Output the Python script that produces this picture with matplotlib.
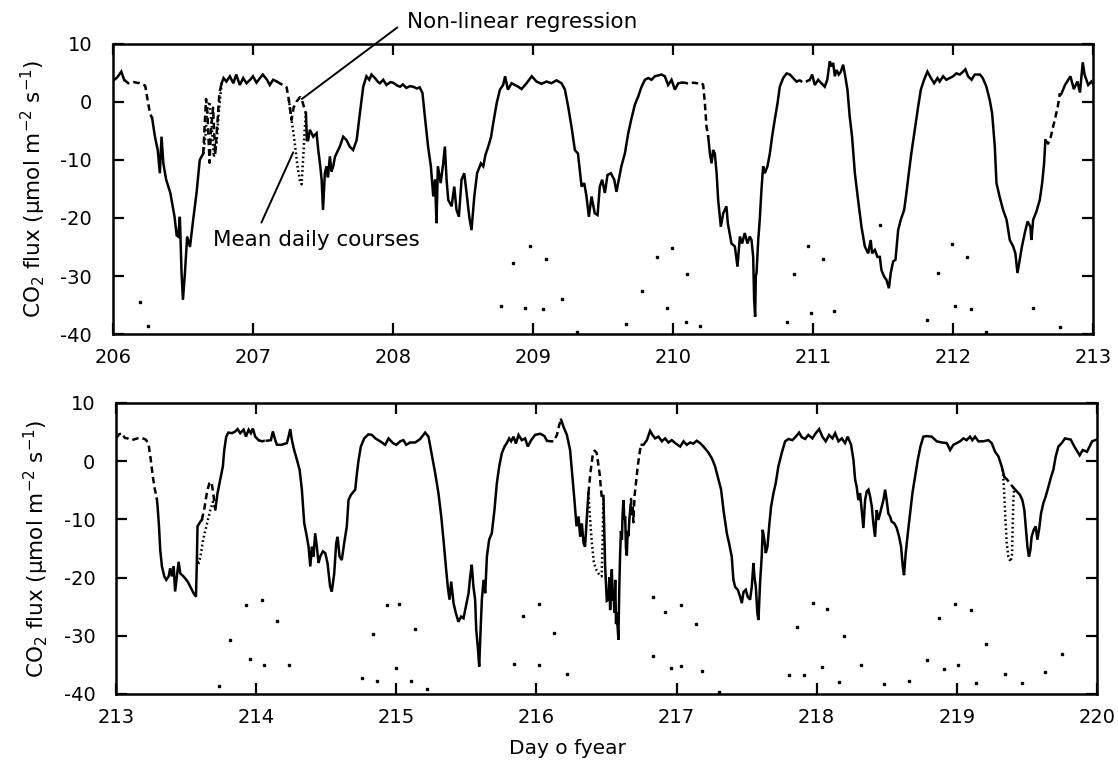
import numpy as np
import matplotlib
matplotlib.use("Agg")
import matplotlib.pyplot as plt

plt.rcParams["font.family"] = ["DejaVu Sans"]
plt.rcParams["axes.unicode_minus"] = False
plt.rcParams["mathtext.default"] = "regular"

nan = np.nan

# -----------------------------------
# DATA  (day of year, CO2 flux in umol m-2 s-1)
# measured series, gaps = nan
# -----------------------------------
top_day = [
    206.0, 206.03, 206.06, 206.08, nan,
    206.28, 206.30, 206.32, 206.335, 206.347, 206.36, 206.38, 206.41, 206.44, 206.455, 206.466,
    206.478, 206.49, 206.50, 206.514, 206.53, 206.55, 206.573, 206.597, 206.62, 206.645, nan,
    206.776, 206.79, 206.81, 206.835, 206.86, 206.88, 206.906, 206.93, 206.954, 206.98, 207.0,
    207.025, 207.05, 207.07, 207.10, 207.12, 207.144, 207.17, nan,
    207.378, 207.385, 207.394, 207.406, 207.43, 207.454, 207.466, 207.48, 207.49, 207.50, 207.513,
    207.525, 207.535, 207.549, 207.56, 207.573, 207.585, 207.596, 207.62, 207.644, 207.668, 207.69,
    207.715, 207.74, 207.763, 207.787, 207.81, 207.83, 207.846, 207.87, 207.89, 207.906, 207.93,
    207.953, 207.98, 208.0, 208.03, 208.05, 208.07, 208.095, 208.12, 208.144, 208.17, 208.19,
    208.21, 208.227, 208.25, 208.27, 208.287, 208.30, 208.31, 208.32, 208.34, 208.358, 208.37,
    208.382, 208.394, 208.418, 208.437, 208.453, 208.47, 208.489, 208.508, 208.525, 208.544, 208.56,
    208.58, 208.60, 208.627, 208.644, 208.66, 208.68, 208.70, 208.715, 208.74, 208.763, 208.786,
    208.80, 208.82, 208.846, 208.87, 208.894, 208.917, 208.953, 208.99, 209.024, 209.06, 209.096,
    209.13, 209.167, 209.203, 209.227, 209.25, 209.274, 209.298, 209.32, 209.346, 209.365, 209.381,
    209.398, 209.417, 209.44, 209.46, 209.476, 209.493, 209.512, 209.531, 209.555, 209.579, 209.595,
    209.612, 209.63, 209.655, 209.679, 209.70, 209.726, 209.75, 209.774, 209.798, 209.822, 209.845,
    209.869, 209.917, 209.94, 209.964, 209.988, 210.012, 210.036, 210.06, nan,
    210.25, 210.262, 210.274, 210.285, 210.297, 210.31, 210.321, 210.34, 210.357, 210.38, 210.39,
    210.416, 210.44, 210.459, 210.476, 210.492, 210.511, 210.53, 210.547, 210.559, 210.571, 210.578,
    210.585, 210.59, 210.595, 210.607, 210.618, 210.63, 210.642, 210.654, 210.673, 210.69, 210.706,
    210.725, 210.745, 210.761, 210.785, 210.81, 210.833, 210.856, 210.88, nan,
    210.975, 210.992, 211.011, 211.035, 211.059, 211.082, 211.10, 211.118, 211.13, 211.142, 211.154,
    211.166, 211.182, 211.197, 211.213, 211.225, 211.244, 211.26, 211.277, 211.297, 211.32, 211.344,
    211.368, 211.392, 211.41, 211.42, 211.44, 211.458, 211.475, 211.487, 211.506, 211.523, 211.54,
    211.553, 211.57, 211.587, 211.606, 211.625, 211.649, 211.665, 211.682, 211.70, 211.725, 211.749,
    211.768, 211.791, 211.815, 211.84, 211.863, 211.887, 211.903, 211.927, 211.95, 211.975, 211.998,
    212.022, 212.046, 212.07, 212.086, 212.105, 212.13, 212.153, 212.19, 212.21, 212.236, 212.26,
    212.277, 212.296, 212.308, 212.33, 212.355, 212.38, 212.403, 212.427, 212.443, 212.458, 212.474,
    212.49, 212.51, 212.53, 212.55, 212.557, 212.57, 212.593, 212.617, 212.634, 212.648, 212.657, nan,
    212.76, 212.77, 212.797, 212.836, 212.86, 212.886, 212.904, 212.924, 212.937, 212.963, 212.985,
    213.0,
]
top_flux = [
    3.6, 4.2, 5.2, 3.8, nan,
    -2.8, -6.0, -8.3, -12.3, -6.0, -10.6, -13.4, -15.7, -19.8, -23.0, -23.2,
    -19.8, -29.5, -34.1, -29.5, -23.2, -25.0, -20.3, -15.7, -10.0, -8.9, nan,
    3.2, 4.1, 3.5, 4.4, 3.2, 4.7, 2.9, 4.1, 3.2, 3.8, 4.4,
    3.3, 4.1, 4.7, 3.8, 2.9, 3.8, 3.5, nan,
    -2.0, -6.6, -6.6, -4.8, -6.0, -5.4, -8.3, -11.0, -13.4, -18.6, -12.3,
    -11.1, -13.0, -9.4, -12.0, -11.1, -9.5, -8.9, -7.7, -6.0, -6.6, -7.7,
    -8.3, -6.6, -2.0, 2.6, 4.4, 3.8, 4.7, 4.1, 3.5, 3.2, 3.8,
    2.9, 3.4, 3.3, 2.8, 2.6, 3.0, 2.4, 2.7, 2.6, 2.3, 2.5,
    1.5, -2.5, -7.7, -11.1, -16.3, -13.4, -20.9, -11.1, -14.0, -10.6, -7.7,
    -13.4, -16.9, -18.0, -14.6, -18.6, -19.8, -13.4, -12.3, -15.7, -19.8, -22.1,
    -16.3, -12.3, -10.6, -11.1, -9.1, -7.7, -6.0, -3.7, -0.2, 2.1, 2.9,
    4.4, 2.1, 3.2, 2.9, 2.6, 2.2, 3.2, 4.4, 3.5, 3.1, 3.5,
    3.2, 3.7, 3.2, 2.1, -0.8, -4.3, -8.3, -8.9, -14.6, -14.0, -16.3,
    -19.8, -16.3, -19.2, -19.5, -14.6, -13.4, -15.7, -12.6, -12.3, -13.4, -15.5,
    -13.4, -11.1, -8.9, -5.4, -3.1, -0.5, 0.9, 2.6, 3.8, 4.1, 3.8,
    4.4, 4.7, 4.4, 2.9, 3.8, 2.1, 3.2, 3.3, nan,
    -6.0, -8.9, -10.6, -8.3, -8.9, -12.3, -16.9, -21.5, -19.2, -18.0, -20.9,
    -24.4, -24.9, -28.4, -23.2, -24.4, -22.6, -24.4, -23.2, -23.8, -26.7, -34.1,
    -37.0, -30.0, -29.5, -23.8, -20.3, -15.2, -11.1, -12.3, -11.1, -8.9, -6.0,
    -3.1, -0.2, 2.6, 4.1, 4.9, 4.7, 4.1, 3.5, nan,
    3.8, 4.7, 2.9, 3.8, 3.2, 2.6, 3.8, 7.0, 6.1, 6.7, 4.4,
    5.5, 4.7, 5.2, 6.4, 4.9, 2.1, -2.5, -6.0, -12.3, -16.9, -21.5,
    -24.9, -26.1, -23.8, -26.1, -25.5, -26.7, -26.7, -29.0, -30.1, -30.7, -32.1,
    -29.5, -27.5, -27.2, -22.1, -20.3, -18.6, -15.7, -12.3, -8.9, -4.8, -0.8,
    2.1, 3.8, 5.2, 4.1, 3.2, 4.1, 3.5, 4.4, 3.8, 4.1, 4.4,
    4.9, 4.7, 5.2, 5.6, 4.4, 3.8, 4.7, 4.7, 4.1, 2.6, 0.3,
    -2.0, -7.7, -14.0, -16.3, -18.6, -20.3, -23.8, -24.9, -26.1, -29.5, -27.2,
    -24.9, -22.6, -20.6, -21.5, -23.8, -20.3, -18.9, -16.9, -14.0, -10.6, -6.6, nan,
    1.3, 1.3, 2.9, 4.4, 2.2, 3.5, 1.6, 6.8, 4.7, 2.9, 3.5,
    3.0,
]

# gap filling: non-linear regression (dashed)
top_nlr_day = [
    206.08, 206.11, 206.15, 206.19, 206.23, 206.25, 206.265, 206.28, nan,
    206.645, 206.655, 206.665, 206.675, 206.69, 206.70, 206.715, 206.73, 206.745, 206.76, 206.776, nan,
    207.17, 207.19, 207.22, 207.24, 207.255, 207.275, 207.29, 207.31, 207.335, 207.35, 207.365, 207.378, nan,
    210.06, 210.083, 210.11, 210.143, 210.17, 210.202, 210.214, 210.226, 210.238, 210.25, nan,
    210.88, 210.904, 210.928, 210.95, 210.975, nan,
    212.657, 212.676, 212.696, 212.712, 212.73, 212.745, 212.76,
]
top_nlr_flux = [
    3.8, 3.2, 3.4, 3.2, 2.8, 0.0, -2.0, -2.8, nan,
    -8.9, -4.0, 0.5, -2.0, -10.5, -5.0, -1.0, -9.0, -4.0, 1.5, 3.2, nan,
    3.5, 3.2, 2.8, 2.5, 0.5, -3.1, -1.0, 0.0, 0.8, 0.3, -1.0, -2.0, nan,
    3.3, 3.3, 3.1, 3.3, 3.2, 3.3, 2.9, -0.2, -4.3, -6.0, nan,
    3.5, 3.7, 3.3, 3.5, 3.8, nan,
    -6.6, -7.2, -6.0, -4.3, -2.5, -0.9, 1.3,
]

# gap filling: mean daily courses (dotted)
top_mdc_day = [
    206.645, 206.66, 206.675, 206.69, 206.705, 206.72, 206.74, 206.755, 206.776, nan,
    207.255, 207.275, 207.29, 207.305, 207.32, 207.335, 207.347, 207.36, 207.37, 207.378,
]
top_mdc_flux = [
    -8.9, -6.0, -1.0, 0.0, -4.0, -9.5, -7.0, -2.0, 3.2, nan,
    0.5, -3.1, -5.5, -8.5, -11.5, -13.5, -14.2, -9.0, -4.5, -2.0,
]

bot_day = [
    213.29, 213.295, 213.305, 213.314, 213.326, 213.343, 213.357, 213.374, 213.385, 213.397, 213.41,
    213.42, 213.433, 213.445, 213.457, 213.48, 213.51, 213.533, 213.552, 213.569, 213.576, 213.58,
    213.60, 213.611, nan,
    213.707, 213.723, 213.742, 213.761, 213.771, 213.785, 213.80, 213.826, 213.85, 213.866, 213.885,
    213.909, 213.926, 213.945, 213.961, 213.975, 213.992, 214.016, nan,
    214.075, 214.104, 214.118, 214.135, 214.147, 214.18, 214.218, 214.23, 214.242, 214.254, 214.27,
    214.29, 214.309, 214.325, 214.342, 214.356, 214.373, 214.385, 214.397, 214.408, 214.42, 214.432,
    214.444, 214.456, 214.475, 214.492, 214.508, 214.527, 214.539, 214.556, 214.57, 214.58, 214.594,
    214.61, 214.627, 214.646, 214.658, 214.675, 214.706, 214.718, 214.73, 214.746, 214.77, 214.80,
    214.825, 214.85, 214.884, 214.92, 214.944, 214.975, 215.0, 215.027, 215.05, 215.07, 215.098,
    215.134, 215.17, 215.205, 215.229, 215.253, 215.277, 215.30, 215.32, 215.336, 215.353, 215.367,
    215.379, 215.391, 215.408, 215.424, 215.443, 215.462, 215.479, 215.496, 215.515, 215.527, 215.538,
    215.55, 215.562, 215.57, 215.581, 215.591, 215.60, 215.61, 215.622, 215.634, 215.646, 215.662,
    215.681, 215.70, 215.717, 215.734, 215.753, 215.772, 215.788, 215.805, 215.819, 215.836, 215.853,
    215.872, 215.895, 215.919, 215.938, 215.962, 215.99, 216.026, 216.057, 216.074, nan,
    216.176, 216.193, 216.217, 216.24, 216.257, 216.271, 216.286, 216.30, 216.312, 216.324, 216.336,
    216.347, 216.36, 216.371, nan,
    216.478, 216.49, 216.502, 216.514, 216.52, 216.526, 216.532, 216.538, 216.544, 216.55, 216.556,
    216.562, 216.568, 216.573, 216.585, 216.591, 216.597, 216.603, 216.61, 216.615, 216.621, 216.627,
    216.633, 216.639, 216.645, 216.651, 216.657, 216.663, 216.669, nan,
    216.752, 216.764, 216.788, 216.811, 216.828, 216.847, 216.871, 216.895, 216.918, 216.942, 216.966,
    216.995, 217.026, 217.05, 217.073, 217.097, 217.12, 217.144, 217.168, 217.192, 217.223, 217.252,
    217.275, 217.30, 217.318, 217.335, 217.359, 217.375, 217.394, 217.406, 217.418, 217.437, 217.454,
    217.466, 217.478, 217.494, 217.508, 217.525, 217.537, 217.549, 217.556, 217.566, 217.577, 217.585,
    217.596, 217.608, 217.615, 217.627, 217.637, 217.649, 217.663, 217.675, 217.692, 217.708, 217.727,
    217.751, 217.775, 217.799, 217.827, 217.851, 217.875, 217.894, 217.918, 217.941, 217.97, 217.994,
    218.018, 218.041, 218.065, 218.089, 218.113, 218.132, 218.156, 218.18, 218.203, 218.222, 218.246,
    218.263, 218.275, 218.286, 218.298, 218.31, 218.322, 218.334, 218.346, 218.358, 218.37, 218.382,
    218.394, 218.405, 218.417, 218.429, 218.441, 218.453, 218.465, 218.477, 218.489, 218.5, 218.512,
    218.524, 218.536, 218.555, 218.572, 218.589, 218.603, 218.615, 218.624, 218.636, 218.651, 218.667,
    218.684, 218.703, 218.722, 218.741, 218.762, 218.786, 218.822, 218.857, 218.893, 218.929, 218.953,
    218.976, 219.0, 219.024, 219.048, 219.071, 219.095, 219.112, 219.131, 219.155, 219.191, 219.226,
    219.25, 219.274, 219.298, 219.321, 219.34, nan,
    219.41, 219.429, 219.452, 219.469, 219.483, 219.493, 219.505, 219.516, 219.526, 219.535, 219.55,
    219.564, 219.576, 219.588, 219.602, 219.619, 219.635, 219.655, 219.674, 219.69, 219.707, 219.726,
    219.75, 219.773, 219.814, 219.84, 219.878, 219.9, 219.93, 219.967, 220.0,
]
bot_flux = [
    -6.5, -7.8, -11.2, -15.3, -18.1, -19.8, -20.4, -19.8, -18.4, -19.8, -18.1,
    -22.4, -19.8, -17.3, -19.3, -19.8, -20.7, -21.8, -22.7, -23.3, -16.4, -11.2,
    -10.4, -10.1, nan,
    -8.3, -5.5, -3.2, -0.9, 1.9, 4.2, 4.9, 4.8, 5.1, 5.5, 4.8,
    5.4, 4.2, 5.4, 4.8, 5.6, 4.2, 3.6, nan,
    3.5, 3.6, 5.1, 3.6, 2.8, 2.8, 3.1, 4.2, 5.5, 3.6, 1.9,
    0.2, -1.5, -4.9, -10.7, -12.4, -14.7, -18.1, -14.7, -16.4, -12.4, -14.7,
    -17.5, -16.4, -15.5, -15.8, -17.5, -21.6, -22.4, -19.3, -14.1, -13.0, -16.4,
    -17.0, -14.1, -11.2, -6.7, -5.8, -4.9, -2.1, 0.2, 2.5, 3.9, 4.6,
    4.5, 3.9, 3.4, 2.8, 3.9, 3.1, 2.8, 3.4, 3.6, 2.8, 3.2,
    3.2, 3.8, 4.9, 4.2, 1.1, -2.1, -5.5, -9.5, -13.5, -18.1, -21.6,
    -23.8, -20.7, -24.4, -26.1, -27.6, -26.7, -27.0, -25.0, -22.7, -19.8, -17.8,
    -21.6, -23.8, -29.0, -31.9, -35.3, -29.6, -23.8, -20.4, -22.7, -16.4, -13.5,
    -12.4, -8.4, -3.8, -0.9, 1.4, 2.5, 3.1, 3.9, 3.4, 4.2, 3.0,
    4.5, 3.6, 3.9, 2.5, 3.6, 4.5, 4.7, 4.3, 3.5, nan,
    7.1, 5.9, 4.5, 1.9, -2.7, -6.7, -11.2, -9.5, -13.0, -10.7, -14.1,
    -14.7, -9.5, -5.5, nan,
    -6.0, -18.0, -24.0, -23.8, -20.0, -25.6, -21.0, -18.6, -24.0, -22.5, -26.0,
    -20.4, -28.0, -26.0, -30.7, -22.0, -16.0, -12.0, -13.5, -9.0, -6.7, -10.0,
    -9.5, -15.0, -16.2, -12.0, -12.9, -10.0, -8.4, nan,
    2.8, 2.8, 3.6, 5.2, 4.5, 3.9, 4.2, 3.4, 3.9, 3.2, 3.6,
    3.0, 2.5, 3.4, 2.8, 3.2, 3.0, 3.5, 3.1, 2.5, 1.6, 0.5,
    -0.9, -3.2, -4.9, -8.4, -12.4, -14.1, -16.4, -20.4, -21.6, -22.1, -23.3,
    -24.4, -22.5, -22.1, -23.3, -23.8, -21.6, -17.5, -19.8, -21.6, -26.1, -27.3,
    -21.0, -16.4, -11.8, -13.5, -15.8, -14.7, -10.7, -7.8, -5.5, -3.8, -0.9,
    1.4, 3.4, 3.8, 3.6, 4.2, 4.9, 4.1, 3.8, 4.5, 3.9, 4.8,
    5.5, 4.2, 3.4, 4.5, 3.9, 4.8, 3.4, 3.9, 3.1, 4.2, 2.8,
    0.2, -3.2, -4.4, -6.7, -5.5, -8.4, -11.5, -6.7, -5.2, -4.9, -6.1,
    -7.8, -10.7, -13.0, -8.4, -10.1, -9.0, -7.8, -6.7, -4.9, -6.7, -9.0,
    -9.5, -10.4, -10.7, -11.5, -13.0, -14.7, -18.1, -19.6, -15.8, -12.4, -9.0,
    -5.5, -2.7, 0.2, 2.5, 4.2, 4.3, 4.2, 3.4, 3.2, 3.1, 1.9,
    2.8, 3.1, 3.4, 3.9, 3.6, 4.2, 3.6, 4.2, 3.4, 3.4, 3.6,
    3.1, 1.6, 0.8, -0.9, -2.7, nan,
    -4.7, -5.2, -5.8, -6.7, -8.4, -11.2, -14.7, -16.4, -15.3, -13.0, -11.8,
    -11.2, -13.5, -11.8, -9.0, -7.2, -6.1, -4.4, -2.7, -1.5, 0.8, 2.5,
    3.1, 3.9, 3.7, 2.5, 1.0, 1.9, 1.6, 3.4, 3.7,
]

bot_nlr_day = [
    213.0, 213.02, 213.04, 213.06, 213.08, 213.11, 213.15, 213.18, 213.21, 213.23, 213.245,
    213.26, 213.275, 213.29, nan,
    213.611, 213.63, 213.65, 213.665, 213.68, 213.695, 213.707, nan,
    214.016, 214.04, 214.06, 214.075, nan,
    216.074, 216.098, 216.122, 216.146, 216.162, 216.176, nan,
    216.371, 216.385, 216.40, 216.415, 216.43, 216.45, 216.465, 216.478, nan,
    216.669, 216.675, 216.68, 216.686, 216.692, 216.70, 216.71, 216.725, 216.74, 216.752, nan,
    219.34, 219.357, 219.38, 219.41,
]
bot_nlr_flux = [
    4.0, 4.6, 4.8, 4.0, 3.9, 3.6, 3.9, 4.0, 3.7, 3.0, 0.5,
    -2.5, -4.8, -6.5, nan,
    -10.1, -8.0, -5.0, -3.8, -3.6, -6.0, -8.3, nan,
    3.6, 3.4, 3.5, 3.5, nan,
    3.5, 3.4, 3.4, 4.5, 6.2, 7.1, nan,
    -5.5, -2.0, 0.8, 1.8, 1.4, -2.0, -6.0, -6.0, nan,
    -8.4, -6.5, -9.5, -7.5, -10.5, -6.0, -3.8, -0.5, 2.0, 2.8, nan,
    -2.7, -3.1, -3.8, -4.7,
]

bot_mdc_day = [
    213.576, 213.585, 213.60, 213.62, 213.645, 213.67, 213.69, 213.707, nan,
    216.371, 216.38, 216.395, 216.41, 216.43, 216.45, 216.465, 216.472, 216.478, nan,
    219.329, 219.337, 219.345, 219.357, 219.369, 219.385, 219.395, 219.40, 219.405, 219.41,
]
bot_mdc_flux = [
    -16.4, -17.8, -16.5, -13.5, -11.0, -8.5, -7.0, -8.3, nan,
    -5.5, -9.0, -14.0, -17.5, -18.8, -19.6, -19.8, -14.0, -6.0, nan,
    -1.5, -4.5, -8.5, -14.0, -16.4, -17.3, -16.0, -11.0, -6.5, -4.7,
]

# stray specks of the printed original
top_speck_day = [206.193, 206.247, 208.977, 208.853, 209.089, 208.77, 208.941, 209.067, 209.203,
                 209.31, 209.881, 209.993, 210.102, 209.774, 209.957, 210.088, 210.19, 209.66,
                 211.48, 210.963, 211.07, 210.864, 210.987, 211.147, 210.814, 211.987, 212.098,
                 211.887, 212.01, 212.124, 211.813, 212.236, 212.57, 212.764]
top_speck_flux = [-34.4, -38.6, -24.8, -27.8, -27.0, -35.1, -35.5, -35.7, -34.0,
                  -39.7, -26.7, -25.2, -29.7, -32.5, -35.5, -38.0, -38.6, -38.3,
                  -21.2, -24.8, -27.1, -29.7, -36.3, -36.0, -38.0, -24.5, -26.8,
                  -29.5, -35.1, -35.7, -37.5, -39.6, -35.5, -38.7]
bot_speck_day = [213.928, 214.04, 214.147, 213.814, 213.952, 214.052, 214.235, 213.73, 214.932,
                 215.022, 215.13, 214.83, 215.0, 214.754, 214.86, 215.105, 216.019, 215.907,
                 216.128, 215.836, 216.019, 216.217, 215.217, 216.83, 217.03, 216.918, 217.14,
                 216.835, 216.959, 217.03, 217.18, 217.3, 217.972, 218.072, 217.863, 218.196,
                 218.037, 218.317, 217.803, 217.91, 218.163, 218.482, 218.66, 218.988, 219.1,
                 218.876, 219.21, 218.79, 218.912, 219.012, 219.136, 219.345, 219.469, 219.63,
                 219.75]
bot_speck_flux = [-24.7, -23.8, -27.4, -30.8, -34.0, -35.0, -35.0, -38.7, -24.8,
                  -24.5, -28.9, -29.7, -35.6, -37.3, -37.7, -37.7, -24.5, -26.6,
                  -29.6, -34.9, -35.1, -36.6, -39.2, -23.4, -24.7, -26.0, -28.0,
                  -33.5, -35.5, -35.2, -36.0, -39.6, -24.4, -25.4, -28.5, -30.1,
                  -35.3, -35.1, -36.7, -36.7, -38.0, -38.3, -37.8, -24.5, -25.5,
                  -27.0, -31.4, -34.2, -35.7, -35.1, -38.1, -36.6, -38.1, -36.3,
                  -33.1]

y_ticks = [-40, -30, -20, -10, 0, 10]
ylabel = "CO$_2$ flux (µmol m$^{-2}$ s$^{-1}$)"

# -----------------------------------
# FIGURE
# -----------------------------------
fig = plt.figure(figsize=(11.18, 7.68), dpi=100)
ax_top = fig.add_axes([0.101, 0.565, 0.877, 0.378])
ax_bot = fig.add_axes([0.104, 0.0964, 0.877, 0.379])

panels = [
    (ax_top, 206, top_day, top_flux, top_nlr_day, top_nlr_flux, top_mdc_day, top_mdc_flux,
     top_speck_day, top_speck_flux),
    (ax_bot, 213, bot_day, bot_flux, bot_nlr_day, bot_nlr_flux, bot_mdc_day, bot_mdc_flux,
     bot_speck_day, bot_speck_flux),
]

for ax, d0, d, f, nd, nf, md, mf, sd, sf in panels:
    ax.plot(d, f, color="black", lw=1.8, solid_joinstyle="miter")
    ax.plot(nd, nf, color="black", lw=1.8, linestyle=(0, (2.6, 1.6)))
    ax.plot(md, mf, color="black", lw=1.8, linestyle=(0, (0.7, 1.1)))
    ax.plot(sd, sf, "s", color="black", ms=1.8, ls="none")
    ax.set_xlim(d0, d0 + 7)
    ax.set_ylim(-40, 10)
    ax.set_xticks(range(d0, d0 + 8))
    ax.set_yticks(y_ticks)
    ax.tick_params(direction="in", length=8, width=1.6, top=True, right=True,
                   labelsize=14)
    ax.tick_params(axis="x", pad=10)
    ax.tick_params(axis="y", pad=15)
    for s in ax.spines.values():
        s.set_linewidth(1.8)
    ax.set_ylabel(ylabel, fontsize=15.5, labelpad=9)

# annotations
ax_top.annotate("", xy=(207.349, 0.5), xytext=(208.03, 12.8),
                arrowprops=dict(arrowstyle="-", lw=1.4, shrinkA=0, shrinkB=0),
                annotation_clip=False)
ax_top.text(208.10, 13.8, "Non-linear regression", fontsize=15.5, va="center",
            clip_on=False)
ax_top.annotate("", xy=(207.287, -8.7), xytext=(207.06, -20.8),
                arrowprops=dict(arrowstyle="-", lw=1.4, shrinkA=0, shrinkB=0))
ax_top.text(206.714, -23.8, "Mean daily courses", fontsize=15.5, va="center")

fig.text(567 / 1118, 1 - 749 / 768, "Day o fyear", fontsize=14.5, ha="center", va="center")

fig.savefig("out.png", dpi=100)
